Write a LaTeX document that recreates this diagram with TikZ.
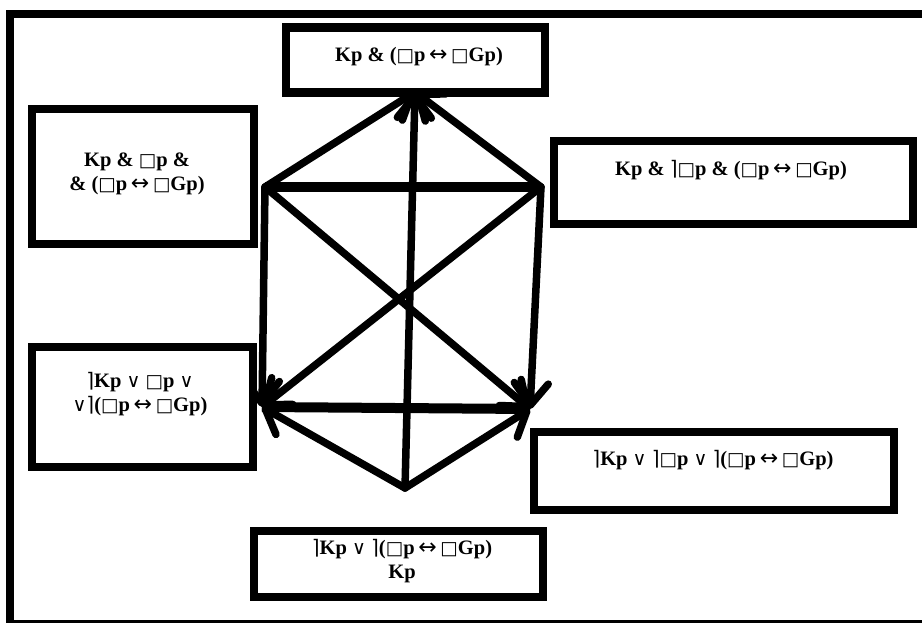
\documentclass[tikz,border=0pt]{standalone}
\usepackage{fontspec}
\setmainfont{Liberation Serif}
\newfontfamily\symB{DejaVu Sans}
\usetikzlibrary{arrows.meta}
\newcommand\symsq{{\symB\mdseries\fontsize{18.5}{20}\selectfont □}}
\newcommand\symeq{{\symB\mdseries\fontsize{22}{20}\selectfont\,↔\,}}
\newcommand\symor{{\symB\mdseries\fontsize{19}{20}\selectfont ∨}}
\newcommand\symneg{{\symB\mdseries\fontsize{20}{20}\selectfont ⌉}}
\tikzset{
  box/.style={draw, line width=8.5pt, fill=white, inner sep=0pt},
  lbl/.style={font=\bfseries\fontsize{20.5}{24}\selectfont, align=center, inner sep=0pt},
  edge/.style={line width=7.5pt, line cap=round},
  arr/.style={edge, -{Straight Barb[length=22pt, width=34pt, round]}},
  hline/.style={line width=10pt}
}
\begin{document}
\begin{tikzpicture}[x=1pt,y=-1pt]
\useasboundingbox (0,0) rectangle (922,622);
\clip (0,0) rectangle (922,622);
\draw[line width=8pt] (10,14) rectangle (930,624);

\coordinate (T) at (415,92);
\coordinate (UL) at (265,187);
\coordinate (UR) at (541,187);
\coordinate (LL) at (262,407);
\coordinate (LR) at (530,409);
\coordinate (B) at (405,488);

\draw[hline] (UL) -- (UR);
\draw[hline] (LL) -- (LR);
\draw[arr] (UL) -- (T);
\draw[arr] (UR) -- (T);
\draw[arr] (B) -- (T);
\draw[arr] (UL) -- (LL);
\draw[arr] (UL) -- (LR);
\draw[arr] (UR) -- (LL);
\draw[arr] (UR) -- (LR);
\draw[arr] (B) -- (LL);
\draw[arr] (B) -- (LR);

\node[box, minimum width=259pt, minimum height=65pt] (b1) at (415.5,60) {};
\node[lbl] (t1) at (419,57) {Kp \& (\symsq p\symeq\symsq Gp)};

\node[box, minimum width=222pt, minimum height=135pt] (b2) at (143,176.5) {};
\node[lbl] (t2) at (137,174) {Kp \& \symsq p \&\\ \& (\symsq p\symeq\symsq Gp)};

\node[box, minimum width=359pt, minimum height=83pt] (b3) at (733.5,182.5) {};
\node[lbl] (t3) at (731,170) {Kp \& \symneg\symsq p \& (\symsq p\symeq\symsq Gp)};

\node[box, minimum width=221pt, minimum height=120pt] (b4) at (142.5,407) {};
\node[lbl] (t4) at (140,394) {\symneg Kp \symor{} \symsq p \symor\\ \symor\symneg(\symsq p\symeq\symsq Gp)};

\node[box, minimum width=360pt, minimum height=78pt] (b5) at (714,471) {};
\node[lbl] (t5) at (713,460) {\symneg Kp \symor{} \symneg\symsq p \symor{} \symneg(\symsq p\symeq\symsq Gp)};

\node[box, minimum width=289pt, minimum height=66pt] (b6) at (398.5,564) {};
\node[lbl] (t6) at (402,561) {\symneg Kp \symor{} \symneg(\symsq p\symeq\symsq Gp)\\ Kp};
\end{tikzpicture}
\end{document}
